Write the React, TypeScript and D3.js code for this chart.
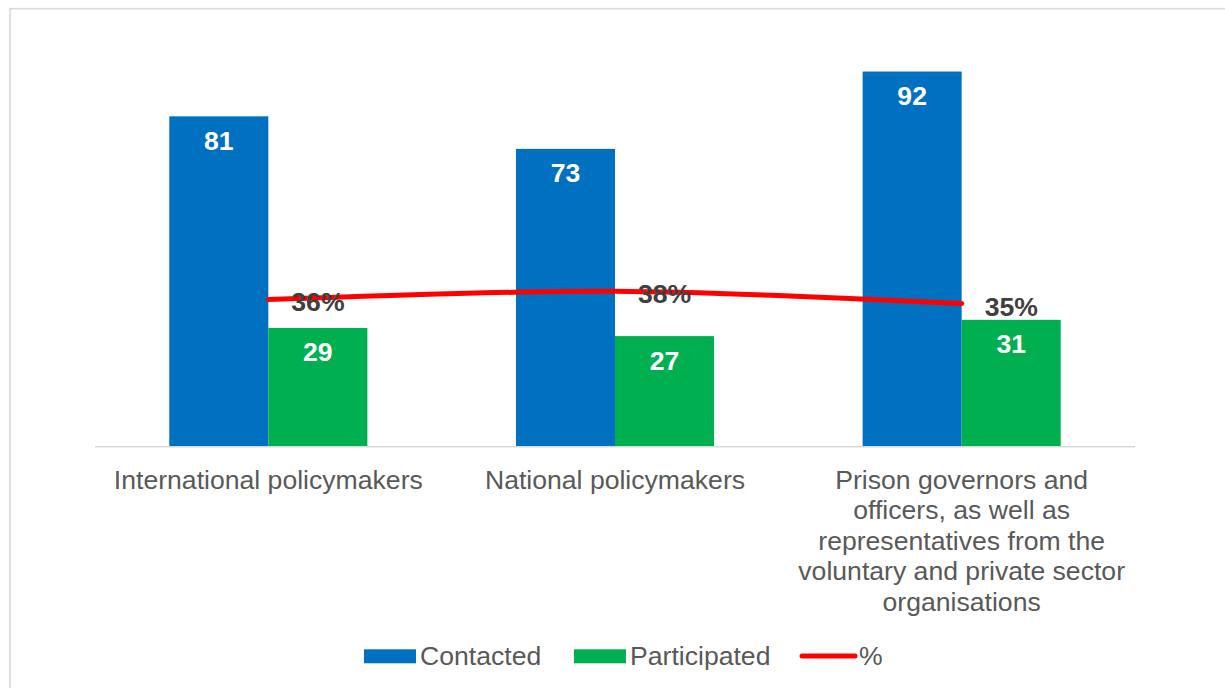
import React from "react";
import * as d3 from "d3";

const categories = [
  "International policymakers",
  "National policymakers",
  "Prison governors and officers, as well as representatives from the voluntary and private sector organisations",
];
const categoryLines = [
  ["International policymakers"],
  ["National policymakers"],
  ["Prison governors and", "officers, as well as", "representatives from the", "voluntary and private sector", "organisations"],
];
const seriesNames = ["Contacted", "Participated"];
const contacted = [81, 73, 92];
const participated = [29, 27, 31];
const percent = [0.36, 0.38, 0.35];
const percentLabels = ["36%", "38%", "35%"];

const W = 1225;
const H = 688;
const FONT = "'Liberation Sans', Arial, Helvetica, sans-serif";
const FS = 26.6;
const colors: Record<string, string> = { Contacted: "#0070C0", Participated: "#00B050" };

export default function App() {
  const plotLeft = 95, plotRight = 1135, plotTop = 39, plotBottom = 446;
  const x0 = d3.scaleBand<string>().domain(categories).range([plotLeft, plotRight]).paddingInner(0).paddingOuter(0);
  const x1 = d3.scaleBand<string>().domain(seriesNames).range([0, x0.bandwidth()]).paddingInner(0).paddingOuter(0.75);
  const y = d3.scaleLinear().domain([0, 100]).range([plotBottom, plotTop]);
  const y2 = d3.scaleLinear().domain([0, 1]).range([plotBottom, plotTop]);

  const values: Record<string, number[]> = { Contacted: contacted, Participated: participated };

  const linePts: [number, number][] = categories.map((c, i) => [x0(c)! + x0.bandwidth() / 2, y2(percent[i])]);
  const lineGen = d3.line().curve(d3.curveCatmullRom.alpha(0.5));
  const path = lineGen(linePts) || "";

  return (
    <svg width={W} height={H} style={{ position: "absolute", left: 0, top: 0, display: "block", background: "#fff" }} fontFamily={FONT}>
      <rect x={10} y={8.7} width={1400} height={1000} fill="#fff" stroke="#d9d9d9" strokeWidth={1.6} />
      {seriesNames.map((s) =>
        categories.map((c, i) => {
          const v = values[s][i];
          const bx = x0(c)! + x1(s)!;
          return (
            <g key={s + i}>
              <rect x={bx} y={y(v)} width={x1.bandwidth()} height={plotBottom - y(v)} fill={colors[s]} />
              <text x={bx + x1.bandwidth() / 2} y={y(v) + 33.5} textAnchor="middle" fill="#fff" fontWeight="bold" fontSize={FS}>
                {v}
              </text>
            </g>
          );
        })
      )}
      <line x1={plotLeft} x2={plotRight} y1={446.8} y2={446.8} stroke="#d9d9d9" strokeWidth={1.6} />
      <path d={path} fill="none" stroke="#FF0000" strokeWidth={5} strokeLinecap="round" strokeLinejoin="round" />
      {linePts.map((p, i) => (
        <text key={"pl" + i} x={p[0] + 23} y={p[1] + 12} fill="#404040" fontWeight="bold" fontSize={FS}>
          {percentLabels[i]}
        </text>
      ))}
      {categories.map((c, i) => (
        <text key={"cat" + i} textAnchor="middle" fill="#595959" fontSize={FS}>
          {categoryLines[i].map((ln, j) => (
            <tspan key={j} x={x0(c)! + x0.bandwidth() / 2} y={488.5 + j * 30.6}>
              {ln}
            </tspan>
          ))}
        </text>
      ))}
      <g>
        <rect x={364} y={649.3} width={52} height={14} fill={colors.Contacted} />
        <text x={420} y={664.5} fill="#595959" fontSize={FS}>Contacted</text>
        <rect x={574} y={649.3} width={52} height={14} fill={colors.Participated} />
        <text x={630} y={664.5} fill="#595959" fontSize={FS}>Participated</text>
        <line x1={802} x2={855} y1={656} y2={656} stroke="#FF0000" strokeWidth={5} strokeLinecap="round" />
        <text x={859} y={664.5} fill="#595959" fontSize={FS}>%</text>
      </g>
    </svg>
  );
}
